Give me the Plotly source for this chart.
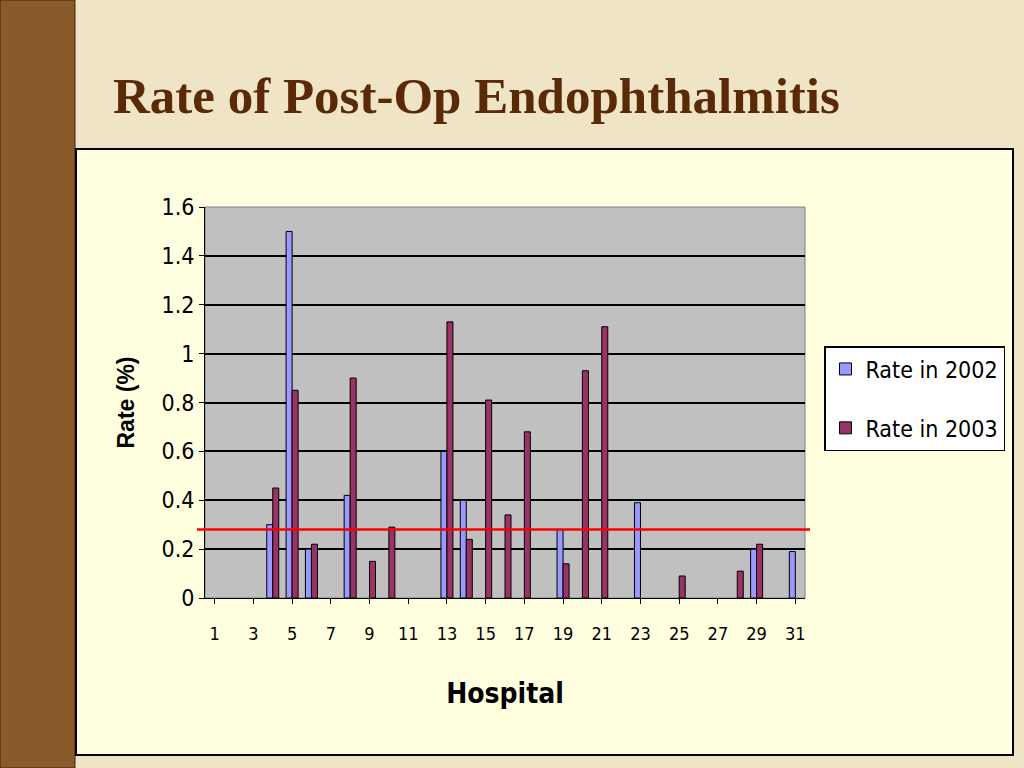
import plotly.graph_objects as go

hospitals = list(range(1, 32))
rate_2002 = [None, None, None, 0.30, 1.50, 0.20, None, 0.42, None, None, None, None, 0.60, 0.40, None, None,
             None, None, 0.28, None, None, None, 0.39, None, None, None, None, None, 0.20, None, 0.19]
rate_2003 = [None, None, None, 0.45, 0.85, 0.22, None, 0.90, 0.15, 0.29, None, None, 1.13, 0.24, 0.81, 0.34,
             0.68, None, 0.14, 0.93, 1.11, None, None, None, 0.09, None, None, 0.11, 0.22, None, None]
ref_rate = 0.28

narrow = "Liberation Sans Narrow, Arial Narrow, DejaVu Sans Condensed, sans-serif"

X0, X1 = 205/1024, 805/1024
Y0, Y1 = 1-598/768, 1-207/768

fig = go.Figure()
fig.add_bar(x=hospitals, y=rate_2002, name="Rate in 2002", legendgroup="a",
            marker=dict(color="#9999ff", line=dict(color="black", width=1)))
fig.add_bar(x=hospitals, y=rate_2003, name="Rate in 2003", legendgroup="b",
            marker=dict(color="#993366", line=dict(color="black", width=1)))

shapes = [
    # brown strip on the left
    dict(type="rect", xref="paper", yref="paper", x0=0, x1=75/1024, y0=0, y1=1,
         fillcolor="#8a5a2b", line=dict(color="#3a2410", width=1), layer="below"),
    # pale panel
    dict(type="rect", xref="paper", yref="paper", x0=76/1024, x1=1013/1024,
         y0=1-755/768, y1=1-149/768, fillcolor="#ffffe0",
         line=dict(color="black", width=2), layer="below"),
    # gray plot area
    dict(type="rect", xref="paper", yref="paper", x0=X0, x1=X1, y0=Y0, y1=Y1,
         fillcolor="#c0c0c0", line=dict(color="#808080", width=1), layer="below"),
    # reference line
    dict(type="line", xref="paper", yref="y", x0=197/1024, x1=810/1024,
         y0=ref_rate, y1=ref_rate, line=dict(color="#ff0000", width=2.5)),
]

fig.update_layout(
    width=1024, height=768,
    margin=dict(l=0, r=0, t=0, b=0, autoexpand=False),
    paper_bgcolor="#efe5c6",
    plot_bgcolor="#c0c0c0",
    barmode="group", bargap=0.38, bargroupgap=0,
    shapes=shapes,
    title=dict(text="<b>Rate of Post-Op Endophthalmitis</b>", x=113/1024, xanchor="left",
               y=1-95/768, yanchor="middle", automargin=False,
               font=dict(family="Liberation Serif, Times New Roman, serif", size=51, color="#5a2a08")),
    xaxis=dict(domain=[X0, X1], range=[0.5, 31.5], tickmode="array", automargin=False,
               tickvals=list(range(1, 32, 2)), showgrid=False, ticks="outside", ticklen=5,
               tickcolor="black", showline=True, linecolor="black", ticklabelstandoff=14,
               tickfont=dict(family=narrow, size=18, color="black"),
               title=dict(text="<b>Hospital</b>", font=dict(family=narrow, size=28, color="black"),
                          standoff=40)),
    yaxis=dict(domain=[Y0, Y1], range=[0, 1.6], dtick=0.2, tickformat="~g", automargin=False,
               gridcolor="black", gridwidth=1.5, showline=True, linecolor="black",
               ticks="outside", ticklen=5, tickcolor="black", zeroline=False,
               tickfont=dict(family=narrow, size=23, color="black"),
               title=dict(text="<b>Rate (%)</b>", font=dict(family="Liberation Sans, Arial, sans-serif",
                                                          size=23, color="black"), standoff=20)),
    legend=dict(x=824/1024, y=1-346/768, xanchor="left", yanchor="top",
                bgcolor="white", bordercolor="black", borderwidth=1.5, itemwidth=30,
                font=dict(family=narrow, size=23, color="black"), tracegroupgap=26),
)

fig.write_html("out.html", config={"displayModeBar": False},
               post_script="document.body.style.margin='0';document.body.style.overflow='hidden';")
